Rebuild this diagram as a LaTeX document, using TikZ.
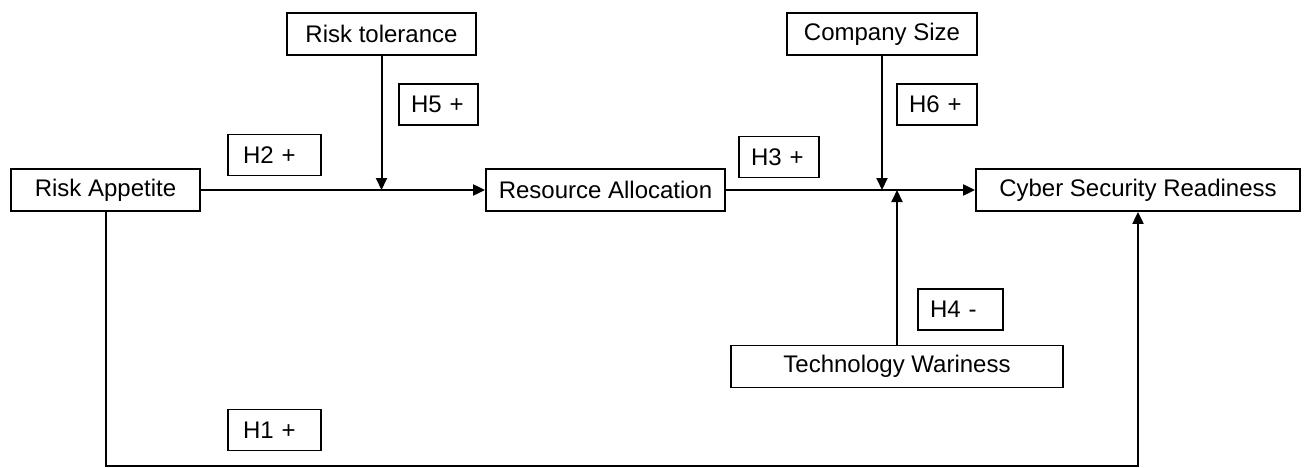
\documentclass[tikz,border=0pt]{standalone}
\usepackage{fontspec}
\setmainfont{Liberation Sans}
\usetikzlibrary{positioning,arrows.meta}

\begin{document}
\begin{tikzpicture}[x=1pt, y=-1pt,
    every node/.style={font=\fontsize{24}{28}\selectfont},
    var/.style={draw, line width=1.8pt, minimum height=42pt, inner sep=0pt},
    hyp/.style={draw, line width=1.8pt, minimum height=41pt, inner xsep=12pt, inner ysep=0pt, text width=#1, align=left},
    link/.style={line width=2pt, -{Triangle[length=12pt,width=11pt]}}]
\useasboundingbox (0,0) rectangle (1304,468);

% constructs
\node[var, minimum width=189pt] (appetite)   at (105.5,190) {Risk Appetite};
\node[var, minimum width=239pt] (allocation) at (605.5,190) {Resource Allocation};
\node[var, minimum width=324pt] (readiness)  at (1138,190)  {Cyber Security Readiness};
\node[var, minimum width=189pt] (tolerance)  at (381.5,34)  {Risk tolerance};
\node[var, minimum width=190pt] (size)       at (882,34)    {Company Size};
\node[var, minimum width=332pt] (wariness)   at (897,366.5) {Technology Wariness};

% hypotheses
\node[hyp=69pt] (h1) at (274.5,430)   {\hspace{3pt}H1 +};
\node[hyp=69pt] (h2) at (274.5,155)   {\hspace{3pt}H2 +};
\node[hyp=56pt] (h3) at (779,157)     {H3 +};
\node[hyp=61pt] (h4) at (960.5,309.5) {H4 -};
\node[hyp=55pt] (h5) at (438.5,104.5) {H5 +};
\node[hyp=56pt] (h6) at (937,104.5)   {H6 +};

\coordinate (floor) at (0,466);

\draw[link] (appetite) -- (allocation);
\draw[link] (allocation) -- (readiness);
\draw[link] (tolerance) -- (tolerance.south |- appetite.east);
\draw[link] (size) -- (size.south |- allocation.east);
\draw[link] (wariness) -- (wariness.north |- allocation.east);
\draw[link] (appetite.south) -- (appetite.south |- floor) -| (readiness.south);
\end{tikzpicture}
\end{document}
